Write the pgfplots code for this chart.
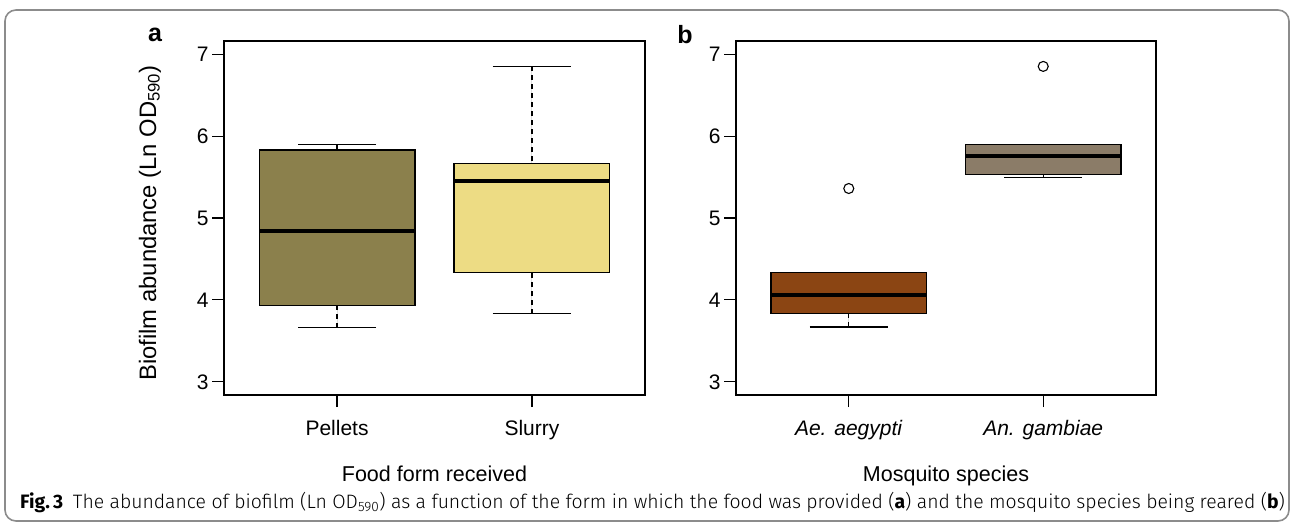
\documentclass[border=0pt]{standalone}
\usepackage{fontspec}
\setmainfont{Liberation Sans}
\newfontfamily\capfont{Fira Sans Light}[BoldFont={Fira Sans Bold}]
\usepackage{pgfplots}
\pgfplotsset{compat=1.18}
\usepgfplotslibrary{statistics}
\definecolor{pellet}{RGB}{139,128,76}
\definecolor{slurry}{RGB}{237,220,132}
\definecolor{aeg}{RGB}{139,69,19}
\definecolor{gam}{RGB}{139,124,104}
\definecolor{framegray}{RGB}{140,140,140}
\pgfplotsset{
  rpanel/.style={
    scale only axis, width=421pt, height=354pt,
    xmin=0.42, xmax=2.58, ymin=2.84, ymax=7.16,
    xtick={1,2}, ytick={3,4,5,6,7},
    tick align=outside, major tick length=12pt, tick pos=left,
    axis line style={line width=1.2pt},
    every tick/.style={black, line width=1.1pt},
    ticklabel style={font=\fontsize{21}{24}\selectfont},
    /pgf/number format/assume math mode=true,
    xticklabel style={anchor=base, yshift=-28pt},
    yticklabel style={anchor=east},
    clip=false,
    boxplot/draw direction=y,
    boxplot/box extend=0.8,
    boxplot/whisker extend=0.4,
    boxplot/every median/.style={line width=3.6pt},
    boxplot/draw/lower whisker/.code={%
      \draw[black, line width=1.1pt, dash pattern=on 4.5pt off 4.5pt]
        (boxplot box cs:\pgfplotsboxplotvalue{lower whisker},0.5) --
        (boxplot box cs:\pgfplotsboxplotvalue{lower quartile},0.5);
      \draw[black, line width=1.1pt]
        (boxplot whisker cs:\pgfplotsboxplotvalue{lower whisker},0) --
        (boxplot whisker cs:\pgfplotsboxplotvalue{lower whisker},1);
    },
    boxplot/draw/upper whisker/.code={%
      \draw[black, line width=1.1pt, dash pattern=on 4.5pt off 4.5pt]
        (boxplot box cs:\pgfplotsboxplotvalue{upper whisker},0.5) --
        (boxplot box cs:\pgfplotsboxplotvalue{upper quartile},0.5);
      \draw[black, line width=1.1pt]
        (boxplot whisker cs:\pgfplotsboxplotvalue{upper whisker},0) --
        (boxplot whisker cs:\pgfplotsboxplotvalue{upper whisker},1);
    },
  },
  rbox/.style={draw=black, line width=1.1pt},
}
\begin{document}
\begin{tikzpicture}[x=1pt,y=1pt]
\path[use as bounding box] (0,0) rectangle (1290,523);
\draw[framegray, line width=1.6pt, rounded corners=11pt] (5,2) rectangle (1289,513);

% panel a
\begin{axis}[rpanel, at={(224pt,128pt)}, anchor=south west,
  xticklabels={Pellets, Slurry}]
\addplot[rbox, fill=pellet, boxplot prepared={draw position=1,
  lower whisker=3.66, lower quartile=3.93, median=4.84,
  upper quartile=5.83, upper whisker=5.90}] coordinates {};
\addplot[rbox, fill=slurry, boxplot prepared={draw position=2,
  lower whisker=3.83, lower quartile=4.33, median=5.45,
  upper quartile=5.67, upper whisker=6.85}] coordinates {};
\end{axis}

% panel b
\begin{axis}[rpanel, width=420pt, at={(736pt,128pt)}, anchor=south west,
  xticklabels={\textit{Ae. aegypti}, \textit{An. gambiae}}]
\addplot[rbox, fill=aeg, boxplot prepared={draw position=1,
  lower whisker=3.67, lower quartile=3.83, median=4.06,
  upper quartile=4.33, upper whisker=4.33}] coordinates {};
\addplot[rbox, fill=gam, boxplot prepared={draw position=2,
  lower whisker=5.49, lower quartile=5.53, median=5.76,
  upper quartile=5.90, upper whisker=5.90}] coordinates {};
\addplot[only marks, mark=o, mark size=5pt, mark options={line width=1.1pt, black}]
  coordinates {(1,5.36) (2,6.85)};
\end{axis}

\node[font=\bfseries\fontsize{25}{28}\selectfont, anchor=base] at (155,481) {a};
\node[font=\bfseries\fontsize{25}{28}\selectfont, anchor=base] at (685,479.5) {b};
\node[rotate=90, anchor=base, font=\fontsize{23.8}{26}\selectfont] at (156,300)
  {Biofilm abundance (Ln OD\textsubscript{590})};
\node[anchor=base, font=\fontsize{21.5}{24}\selectfont] at (434.5,41.3) {Food form received};
\node[anchor=base, font=\fontsize{21.5}{24}\selectfont] at (946,41.3) {Mosquito species};
\node[anchor=base west, inner sep=0pt, font=\capfont\fontsize{19.4}{22}\selectfont] at (20,14.7)
  {\textbf{Fig.\,3}\hspace{0.5em}The abundance of biofilm (Ln OD\textsubscript{590}) as a function of the form in which the food was provided (\textbf{a}) and the mosquito species being reared (\textbf{b})};
\end{tikzpicture}
\end{document}
